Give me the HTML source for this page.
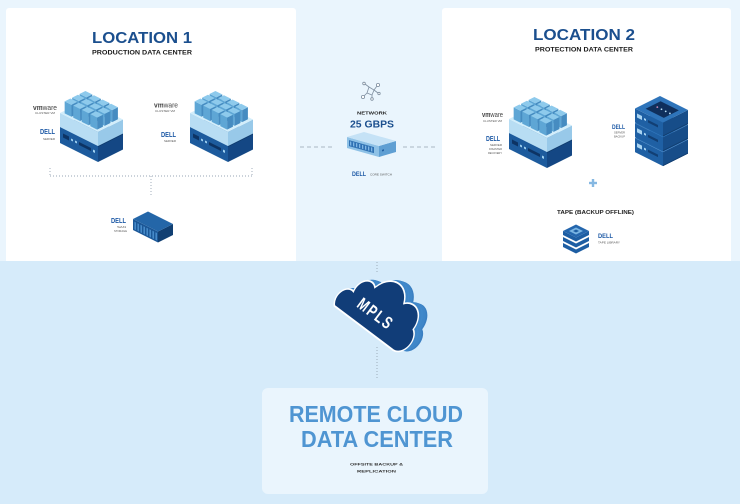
<!DOCTYPE html>
<html><head><meta charset="utf-8"><style>
html,body{margin:0;padding:0;background:#eaf5fd;}
svg{display:block;}
text{font-family:"Liberation Sans",Arial,sans-serif;}
</style></head><body>
<svg id="s" xmlns="http://www.w3.org/2000/svg" width="740" height="504" viewBox="0 0 740 504">
<defs>
<path id="cl" d="M -46 18 L 44 18 A 13 13 0 0 0 48 -7 A 17 17 0 0 0 20 -20 A 22 22 0 0 0 -20 -16 A 12 12 0 0 0 -38 -2 A 11 11 0 0 0 -46 18 Z"/>
</defs>
<rect x="0" y="0" width="740" height="504" fill="#eaf5fd"/>
<rect x="6" y="8" width="290" height="258" rx="3" fill="#ffffff"/>
<rect x="442" y="8" width="289" height="258" rx="3" fill="#ffffff"/>
<rect x="0" y="261" width="740" height="243" fill="#d6ebfa"/>
<rect x="262" y="388" width="226" height="106" rx="6" fill="#eaf5fd"/>

<!-- titles -->
<text x="92" y="43" font-size="15.5" font-weight="bold" fill="#1b4f8e" textLength="100" lengthAdjust="spacingAndGlyphs">LOCATION 1</text>
<text x="92" y="54.5" font-size="6.5" font-weight="bold" fill="#1a1a1a" textLength="100" lengthAdjust="spacingAndGlyphs">PRODUCTION DATA CENTER</text>
<text x="533" y="40" font-size="15.5" font-weight="bold" fill="#1b4f8e" textLength="102" lengthAdjust="spacingAndGlyphs">LOCATION 2</text>
<text x="535" y="51.5" font-size="6.5" font-weight="bold" fill="#1a1a1a" textLength="98" lengthAdjust="spacingAndGlyphs">PROTECTION DATA CENTER</text>

<!-- connectors -->
<g stroke="#97a6b4" stroke-width="0.9" fill="none" stroke-dasharray="1 2">
<line x1="50" y1="176" x2="252" y2="176"/>
<line x1="50" y1="168" x2="50" y2="176"/>
<line x1="252" y1="168" x2="252" y2="176"/>
<line x1="151" y1="176" x2="151" y2="196"/>
<line x1="377" y1="262" x2="377" y2="274"/>
<line x1="377" y1="347" x2="377" y2="380"/>
</g>
<g stroke="#a9b7c4" stroke-width="0.9" fill="none" stroke-dasharray="4 3">
<line x1="300" y1="147" x2="335" y2="147"/>
<line x1="403" y1="147" x2="437" y2="147"/>
</g>

<!-- network icon -->
<g stroke="#7f8fa0" stroke-width="0.8" fill="none">
<polygon points="369,87 374,90 372,95 367,93"/>
<line x1="374" y1="90" x2="377" y2="86"/>
<circle cx="378" cy="85" r="1.6" fill="#fff"/>
<line x1="367" y1="93" x2="364" y2="96"/>
<circle cx="363" cy="97" r="1.6" fill="#fff"/>
<line x1="369" y1="87" x2="365" y2="84"/>
<circle cx="364" cy="83.5" r="1.3" fill="#fff"/>
<line x1="372" y1="95" x2="372" y2="98"/>
<circle cx="372" cy="99" r="1.3" fill="#fff"/>
<line x1="374" y1="90" x2="378" y2="93"/>
<circle cx="379" cy="93.5" r="1.2" fill="#fff"/>
</g>
<text x="357" y="114.5" font-size="4.5" font-weight="bold" fill="#222" textLength="30" lengthAdjust="spacingAndGlyphs">NETWORK</text>
<text x="350" y="127.5" font-size="10" font-weight="bold" fill="#1b4f8e" textLength="44" lengthAdjust="spacingAndGlyphs">25 GBPS</text>
<text x="352" y="176" font-size="6" font-weight="bold" fill="#1e5aa6" textLength="14" lengthAdjust="spacingAndGlyphs">DELL</text>
<text x="370" y="175.5" font-size="3" fill="#555" textLength="22" lengthAdjust="spacingAndGlyphs">CORE SWITCH</text>

<!-- left labels -->
<text x="33" y="110" font-size="7.5" fill="#444" textLength="24" lengthAdjust="spacingAndGlyphs"><tspan font-weight="bold">vm</tspan>ware</text>
<text x="35" y="114" font-size="3" fill="#555" textLength="20" lengthAdjust="spacingAndGlyphs">CLUSTER VM</text>
<text x="40" y="134" font-size="7" font-weight="bold" fill="#1e5aa6" textLength="15" lengthAdjust="spacingAndGlyphs">DELL</text>
<text x="43" y="140" font-size="3" fill="#555" textLength="12" lengthAdjust="spacingAndGlyphs">SERVER</text>

<text x="154" y="107.5" font-size="7.5" fill="#444" textLength="24" lengthAdjust="spacingAndGlyphs"><tspan font-weight="bold">vm</tspan>ware</text>
<text x="155" y="112" font-size="3" fill="#555" textLength="20" lengthAdjust="spacingAndGlyphs">CLUSTER VM</text>
<text x="161" y="137" font-size="7" font-weight="bold" fill="#1e5aa6" textLength="15" lengthAdjust="spacingAndGlyphs">DELL</text>
<text x="164" y="142" font-size="3" fill="#555" textLength="12" lengthAdjust="spacingAndGlyphs">SERVER</text>

<text x="111" y="223" font-size="7" font-weight="bold" fill="#1e5aa6" textLength="15" lengthAdjust="spacingAndGlyphs">DELL</text>
<text x="117" y="228" font-size="3" fill="#555" textLength="9" lengthAdjust="spacingAndGlyphs">SAN</text>
<text x="114" y="232" font-size="3" fill="#555" textLength="13" lengthAdjust="spacingAndGlyphs">STORAGE</text>

<!-- right labels -->
<text x="482" y="117" font-size="7" fill="#444" textLength="21" lengthAdjust="spacingAndGlyphs"><tspan font-weight="bold">vm</tspan>ware</text>
<text x="483" y="122" font-size="3" fill="#555" textLength="19" lengthAdjust="spacingAndGlyphs">CLUSTER VM</text>
<text x="486" y="141" font-size="7" font-weight="bold" fill="#1e5aa6" textLength="14" lengthAdjust="spacingAndGlyphs">DELL</text>
<text x="490" y="146" font-size="3" fill="#555" textLength="12" lengthAdjust="spacingAndGlyphs">SERVER</text>
<text x="489" y="150" font-size="3" fill="#555" textLength="13" lengthAdjust="spacingAndGlyphs">DISASTER</text>
<text x="488" y="154" font-size="3" fill="#555" textLength="14" lengthAdjust="spacingAndGlyphs">RECOVERY</text>

<text x="612" y="129" font-size="6.5" font-weight="bold" fill="#1e5aa6" textLength="13" lengthAdjust="spacingAndGlyphs">DELL</text>
<text x="614" y="133.5" font-size="3" fill="#555" textLength="11" lengthAdjust="spacingAndGlyphs">SERVER</text>
<text x="614" y="137.5" font-size="3" fill="#555" textLength="11" lengthAdjust="spacingAndGlyphs">BACKUP</text>

<line x1="589" y1="183" x2="597" y2="183" stroke="#86b8e2" stroke-width="2.4"/>
<line x1="593" y1="179" x2="593" y2="187" stroke="#86b8e2" stroke-width="2.4"/>

<text x="557" y="214" font-size="5" font-weight="bold" fill="#222" textLength="77" lengthAdjust="spacingAndGlyphs">TAPE (BACKUP OFFLINE)</text>
<text x="598" y="238" font-size="6.5" font-weight="bold" fill="#1e5aa6" textLength="15" lengthAdjust="spacingAndGlyphs">DELL</text>
<text x="598" y="243.5" font-size="3" fill="#555" textLength="22" lengthAdjust="spacingAndGlyphs">TAPE LIBRARY</text>

<!-- tape library -->
<g>
<polygon points="563,243 576,249.5 589,243 589,247 576,253.5 563,247" fill="#1d5ea3"/>
<polygon points="563,237 576,243.5 589,237 589,241 576,247.5 563,241" fill="#1d5ea3"/>
<polygon points="563,231 576,237.5 589,231 589,235 576,241.5 563,235" fill="#1d5ea3"/>
<polygon points="563,231 576,224.5 589,231 576,237.5" fill="#2466ad"/>
<polygon points="569,231 576,227.5 583,231 576,234.5" fill="#7ab5e3"/>
<polygon points="573,231 576,229.5 579,231 576,232.5" fill="#1d5ea3"/>
</g>

<!-- iso layer -->
<g id="iso"></g>

<!-- cloud -->
<g transform="translate(9,0)"><g transform="translate(377,312) rotate(37) scale(0.82,1.15)"><use href="#cl" fill="#3a7fc2"/></g></g>
<g transform="translate(7.5,-0.5)"><g transform="translate(377,312) rotate(37) scale(0.82,1.15)"><use href="#cl" fill="#3f86c8"/></g></g>
<g transform="translate(6,-1)"><g transform="translate(377,312) rotate(37) scale(0.82,1.15)"><use href="#cl" fill="#3f86c8"/></g></g>
<g transform="translate(4.5,-1)"><g transform="translate(377,312) rotate(37) scale(0.82,1.15)"><use href="#cl" fill="#4189cb"/></g></g>
<g transform="translate(3,-0.8)"><g transform="translate(377,312) rotate(37) scale(0.82,1.15)"><use href="#cl" fill="#3f86c8"/></g></g>
<g transform="translate(1.5,-0.4)"><g transform="translate(377,312) rotate(37) scale(0.82,1.15)"><use href="#cl" fill="#3f86c8"/></g></g>
<g transform="translate(377,312) rotate(37) scale(0.82,1.15)">
<use href="#cl" fill="#113d78" stroke="#ffffff" stroke-width="1.6"/>
<text x="0" y="7" font-size="15" font-weight="bold" fill="#ffffff" text-anchor="middle" letter-spacing="2">MPLS</text>
</g>

<!-- remote -->
<text x="289" y="422" font-size="23" font-weight="bold" fill="#4f95d2" textLength="174" lengthAdjust="spacingAndGlyphs">REMOTE CLOUD</text>
<text x="301" y="447" font-size="23" font-weight="bold" fill="#4f95d2" textLength="152" lengthAdjust="spacingAndGlyphs">DATA CENTER</text>
<text x="350" y="465.5" font-size="4" font-weight="bold" fill="#333" textLength="53" lengthAdjust="spacingAndGlyphs">OFFSITE BACKUP &amp;</text>
<text x="357" y="472.5" font-size="4" font-weight="bold" fill="#333" textLength="39" lengthAdjust="spacingAndGlyphs">REPLICATION</text>
</svg>
<script>
(function(){
var NS='http://www.w3.org/2000/svg';
var L=document.getElementById('iso');
function el(g,n,a){var e=document.createElementNS(NS,n);for(var k in a)e.setAttribute(k,a[k]);g.appendChild(e);return e;}
function P(g,pts,fill){return el(g,'polygon',{points:pts.map(function(q){return q[0].toFixed(2)+','+q[1].toFixed(2);}).join(' '),fill:fill});}
function box(g,A,u,v,h,c){
 var B=[A[0]+u[0],A[1]+u[1]],D=[A[0]+v[0],A[1]+v[1]],C=[B[0]+v[0],B[1]+v[1]];
 P(g,[A,B,[B[0],B[1]+h],[A[0],A[1]+h]],c[1]);
 P(g,[B,C,[C[0],C[1]+h],[B[0],B[1]+h]],c[2]);
 P(g,[A,B,C,D],c[0]);
}
function face(g,x,y,sh){return el(g,'g',{transform:'matrix(1,'+sh+',0,1,'+x+','+y+')'});}
function vm(X,Y){
 var u=[38,19],v=[25,-12.5];
 box(L,[X,Y+37],u,v,16,['#2b6cae','#1d5b9d','#144784']);
 var f=face(L,X,Y+37,0.5);
 el(f,'rect',{x:3,y:5,width:6,height:4,fill:'#0d3364'});
 el(f,'rect',{x:11,y:6,width:2,height:2,fill:'#9fd0f0'});
 el(f,'rect',{x:15,y:6,width:2,height:2,fill:'#9fd0f0'});
 el(f,'rect',{x:19,y:5.5,width:12,height:3,fill:'#0d3364'});
 el(f,'rect',{x:33,y:6,width:2,height:2.5,fill:'#9fd0f0'});
 var r=face(L,X+38,Y+56,-0.5);
 el(r,'rect',{x:0,y:0,width:25,height:1,fill:'#0f3a6c'});
 box(L,[X,Y+23],u,v,14,['#d3eefb','#b8ddf3','#98c9e9']);
 var A=[X,Y+23];
 for(var j=2;j>=0;j--)for(var i=0;i<4;i++){
  var s0=0.07+i*0.225,t0=0.08+j*0.3,ds=0.18,dt=0.23,hc=12;
  var px=A[0]+s0*u[0]+t0*v[0],py=A[1]+s0*u[1]+t0*v[1]-hc;
  box(L,[px,py],[ds*u[0],ds*u[1]],[dt*v[0],dt*v[1]],hc,['#8ecaec','#5ea6d5','#468cc1']);
 }
}
vm(60,90);vm(190,90);vm(509,96);
// backup stack
(function(){
 var u=[28,14],v=[25,-12.5];
 for(var k=0;k<3;k++){
  var y=108.5+(2-k)*14.8;
  box(L,[635,y],u,v,14,['#2e74ba','#1f60a4','#174d89']);
  var f=face(L,635,y,0.5);
  el(f,'rect',{x:2,y:4,width:5,height:4,fill:'#a9d4f2'});
  el(f,'rect',{x:9,y:5,width:2,height:2,fill:'#a9d4f2'});
  el(f,'rect',{x:13,y:5,width:10,height:2.5,fill:'#123f74'});
  var r=face(L,663,y+14,-0.5);
  el(r,'rect',{x:0,y:13,width:25,height:1,fill:'#123d6e'});
 }
 var A=[635,108.5];
 function pt(s,t){return [A[0]+s*u[0]+t*v[0],A[1]+s*u[1]+t*v[1]];}
 P(L,[pt(0.2,0.2),pt(0.85,0.2),pt(0.85,0.8),pt(0.2,0.8)],'#0f2f5c');
 for(var d=0;d<4;d++){var q=pt(0.35+d*0.15,0.5);el(L,'circle',{cx:q[0],cy:q[1],r:0.9,fill:d==0?'#d08ab8':'#b9e0f7'});}
})();
// SAN storage
(function(){
 box(L,[133,219],[25,12.5],[15,-7.5],11,['#2466a8','#1b5797','#113f72']);
 var f=face(L,133,219,0.5);
 for(var k=0;k<8;k++)el(f,'rect',{x:1.5+k*3,y:2,width:1.4,height:7.5,fill:'#4b90cf'});
})();
// core switch
(function(){
 box(L,[347,137],[32,9],[17,-5],11,['#c5e2f6','#8ec1e6','#5f9fd3']);
 var f=face(L,347,137,9/32);
 el(f,'rect',{x:2,y:2.5,width:25,height:6,fill:'#2f71b3'});
 for(var k=0;k<8;k++)el(f,'rect',{x:3+k*3,y:3.5,width:1.3,height:4,fill:'#7fb6e4'});
 var r=face(L,379,146,-5/17);
 el(r,'circle',{cx:4,cy:5.5,r:1,fill:'#1d5a9d'});
})();
})();
</script>
</body></html>
